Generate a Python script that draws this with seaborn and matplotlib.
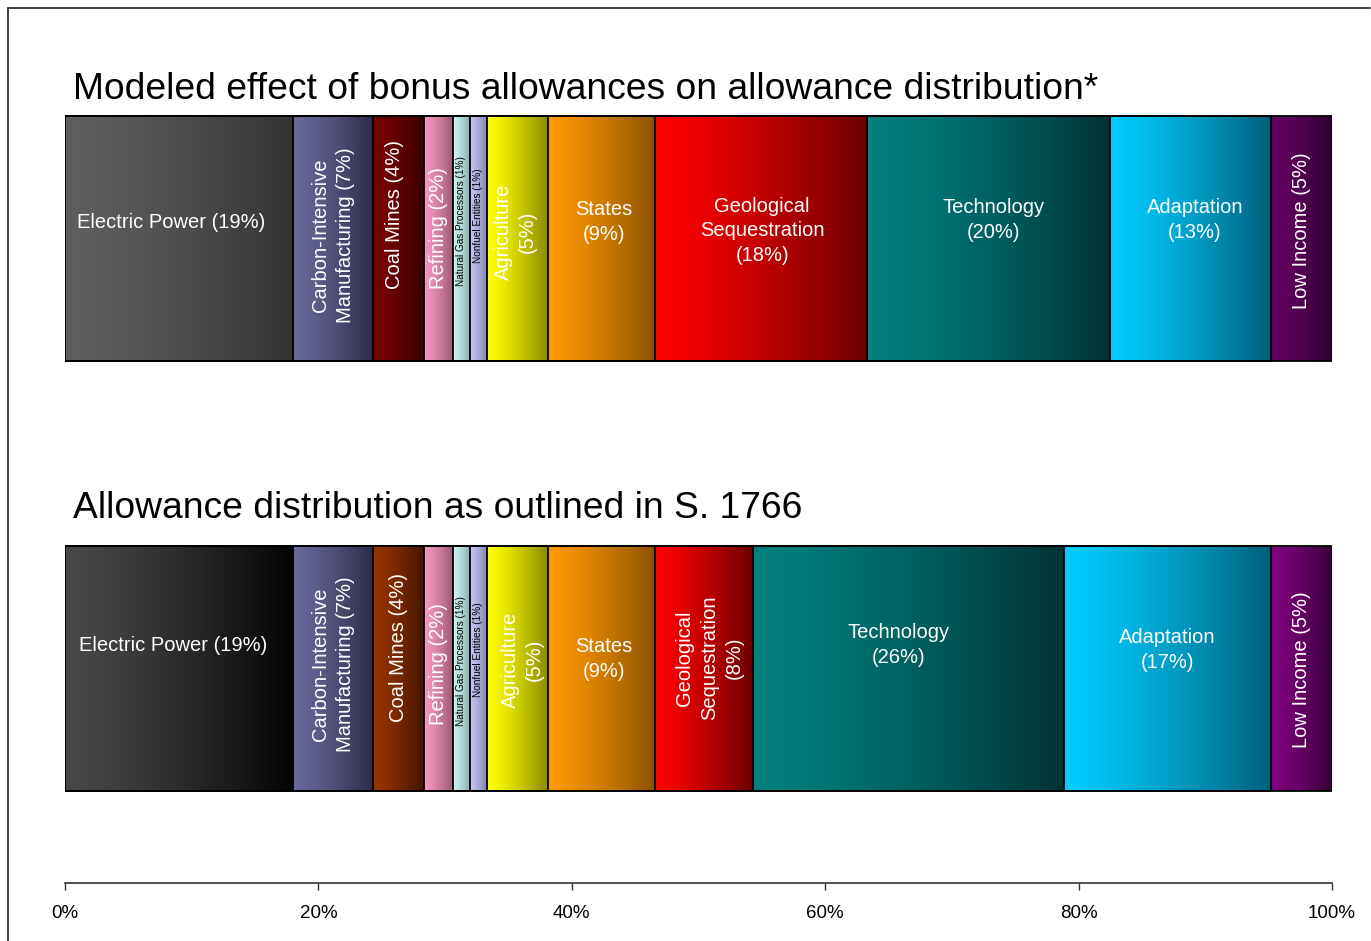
import numpy as np
import pandas as pd
import matplotlib
matplotlib.use("Agg")
import matplotlib.pyplot as plt
from matplotlib.colors import to_rgb
from matplotlib.lines import Line2D
import seaborn as sns

# ---------------- data ----------------
rows = ["Modeled", "S. 1766"]
titles = ["Modeled effect of bonus allowances on allowance distribution*",
          "Allowance distribution as outlined in S. 1766"]
segments = ["Electric Power", "Carbon-Intensive Manufacturing", "Coal Mines", "Refining",
            "Natural Gas Processors", "Nonfuel Entities", "Agriculture", "States",
            "Geological Sequestration", "Technology", "Adaptation", "Low Income"]
modeled_share = [18.0, 6.3, 4.0, 2.3, 1.35, 1.35, 4.8, 8.5, 16.7, 19.2, 12.7, 4.8]
s1766_share = [18.0, 6.3, 4.0, 2.3, 1.35, 1.35, 4.8, 8.5, 7.7, 24.55, 16.35, 4.8]
modeled_labels = ["Electric Power (19%)", "Carbon-Intensive\nManufacturing (7%)", "Coal Mines (4%)",
                  "Refining (2%)", "Natural Gas Processors (1%)", "Nonfuel Entities (1%)",
                  "Agriculture\n(5%)", "States\n(9%)", "Geological\nSequestration\n(18%)",
                  "Technology\n(20%)", "Adaptation\n(13%)", "Low Income (5%)"]
s1766_labels = ["Electric Power (19%)", "Carbon-Intensive\nManufacturing (7%)", "Coal Mines (4%)",
                "Refining (2%)", "Natural Gas Processors (1%)", "Nonfuel Entities (1%)",
                "Agriculture\n(5%)", "States\n(9%)", "Geological\nSequestration\n(8%)",
                "Technology\n(26%)", "Adaptation\n(17%)", "Low Income (5%)"]
tick_values = [0, 20, 40, 60, 80, 100]
tick_labels = ["0%", "20%", "40%", "60%", "80%", "100%"]

# ---------------- styles ----------------
grad_top = [("#5f5f5f", "#333333"), ("#68689a", "#2c2c48"), ("#7a0000", "#3a0000"),
            ("#f598c0", "#98566f"), ("#c8f4f2", "#88aaa8"), ("#c4c4f2", "#7e7ea8"),
            ("#ffff00", "#8a8a00"), ("#ff9900", "#8a5000"), ("#ff0000", "#6a0000"),
            ("#008080", "#003333"), ("#00ccff", "#005f7a"), ("#660066", "#300030")]
grad_bot = [("#484848", "#030303"), ("#68689a", "#2c2c48"), ("#993300", "#451500"),
            ("#f598c0", "#98566f"), ("#c8f4f2", "#88aaa8"), ("#c4c4f2", "#7e7ea8"),
            ("#ffff00", "#8a8a00"), ("#ff9900", "#8a5000"), ("#ff0000", "#6a0000"),
            ("#008080", "#003333"), ("#00ccff", "#005f7a"), ("#800080", "#380038")]
rot_top = [0, 90, 90, 90, 90, 90, 90, 0, 0, 0, 0, 90]
rot_bot = [0, 90, 90, 90, 90, 90, 90, 0, 90, 0, 0, 90]
# label offsets from segment centre, in pixels (x right, y up)
dx_top = [-8, 0, -4, 0, 0, 0, -2, 2, 1, 5, 4, 0]
dy_top = [15.5, 3.5, 23.5, 10.5, 17.5, 22.5, 6.5, 16.5, 7.5, 18.5, 18.5, 7.5]
dx_bot = [-6, 0, 0, 0, 0, 0, 5, 2, 5, -10, 0, 0]
dy_bot = [22.5, 4.5, 20.5, 4.5, 7.5, 18.5, 8.5, 9.5, 10.5, 23.5, 18.5, -1.5]
small = {4, 5}

sns.set_theme(style="white")
plt.rcParams["font.family"] = ["Liberation Sans", "DejaVu Sans"]

W, H = 1371, 941
fig = plt.figure(figsize=(W / 100, H / 100), dpi=100)
fig.patch.set_facecolor("white")

px_per_unit = 430.0
ax_top_px, ax_bot_px = 100, 883
ax = fig.add_axes([65 / W, 1 - ax_bot_px / H, (1332 - 65) / W, (ax_bot_px - ax_top_px) / H])
ax.set_facecolor("white")
x_px_per_unit = (1332 - 65) / 100.0

bar_h = 245 / px_per_unit
shares = np.array([modeled_share, s1766_share])
cum = np.cumsum(shares, axis=1)

# stacked bars via cumulative totals (largest drawn first)
for i in range(len(segments) - 1, -1, -1):
    df = pd.DataFrame({"row": rows, "end": cum[:, i]})
    sns.barplot(data=df, x="end", y="row", orient="h", order=rows, width=bar_h,
                color="white", edgecolor="black", linewidth=1.3, ax=ax)

for p in ax.patches:
    p.set_facecolor("none")
    p.set_zorder(3)

ylim = (1 + (ax_bot_px - 668.5) / px_per_unit, -(238.5 - ax_top_px) / px_per_unit)

# gradient fills + labels
for r, (grads, labs, rots, dxs, dys) in enumerate([
        (grad_top, modeled_labels, rot_top, dx_top, dy_top),
        (grad_bot, s1766_labels, rot_bot, dx_bot, dy_bot)]):
    left = 0.0
    for i, w in enumerate(shares[r]):
        right = left + w
        c0, c1 = np.array(to_rgb(grads[i][0])), np.array(to_rgb(grads[i][1]))
        t = np.linspace(0, 1, 256)[:, None] ** 1.3
        img = (c0 * (1 - t) + c1 * t)[None, :, :]
        ax.imshow(img, extent=(left, right, r + bar_h / 2, r - bar_h / 2), aspect="auto",
                  interpolation="bilinear", zorder=1)
        cx = (left + right) / 2 + dxs[i] / x_px_per_unit
        cy = r - dys[i] / px_per_unit
        if i in small:
            ax.text(cx, cy, labs[i], rotation=90, ha="center", va="center", fontsize=7.2,
                    color="black", zorder=4)
        else:
            ax.text(cx, cy, labs[i], rotation=rots[i], ha="center", va="center",
                    fontsize=14.5, color="white", zorder=4, linespacing=1.38,
                    multialignment="center")
        left = right

ax.set_xlim(0, 100)
ax.set_ylim(*ylim)
ax.set_xticks(tick_values)
ax.set_xticklabels(tick_labels, fontsize=13.5)
ax.tick_params(axis="x", direction="out", length=5, width=1, color="#333333", pad=11,
               bottom=True, labelcolor="black")
ax.tick_params(axis="y", left=False, labelleft=False)
ax.set_xlabel("")
ax.set_ylabel("")
for s in ["top", "left", "right"]:
    ax.spines[s].set_visible(False)
ax.spines["bottom"].set_color("#333333")
ax.spines["bottom"].set_linewidth(1.2)

# titles
fig.text(73 / W, 1 - 99 / H, titles[0], fontsize=26.8, ha="left", va="baseline", color="black")
fig.text(73 / W, 1 - 518 / H, titles[1], fontsize=26.8, ha="left", va="baseline", color="black")

# frame lines (left and top)
fig.add_artist(Line2D([8 / W, 8 / W], [0, 1 - 8 / H], transform=fig.transFigure,
                      color="#333333", linewidth=1.3))
fig.add_artist(Line2D([8 / W, 1370 / W], [1 - 8 / H, 1 - 8 / H], transform=fig.transFigure,
                      color="#333333", linewidth=1.3))

fig.savefig("out.png", dpi=100, facecolor="white")
